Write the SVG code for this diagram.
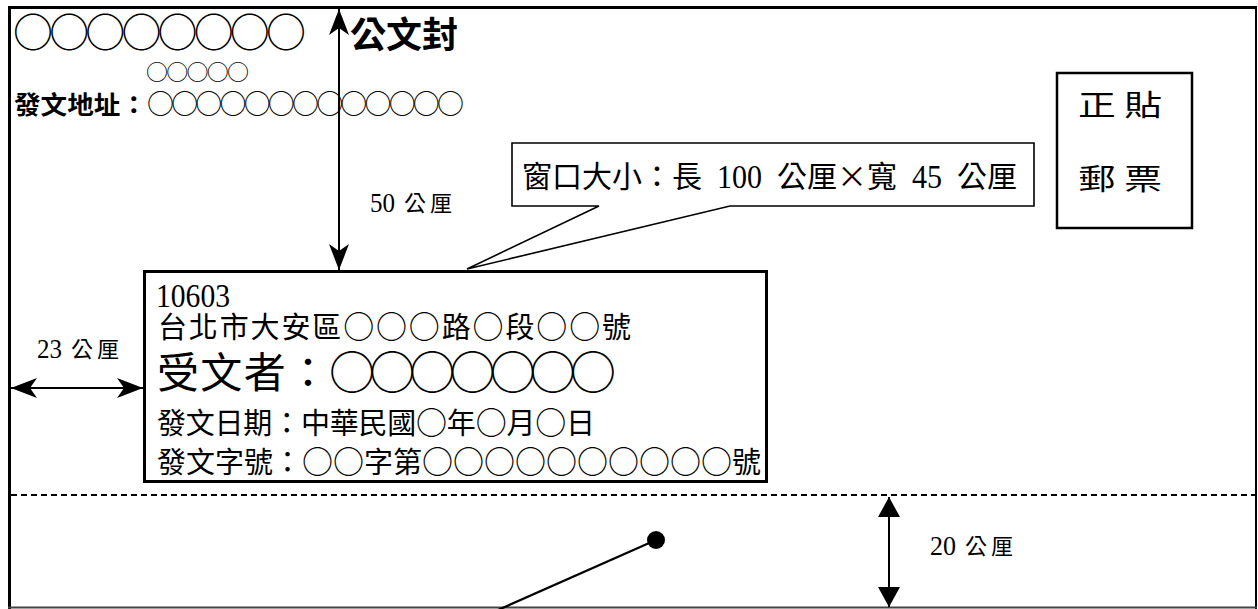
<svg xmlns="http://www.w3.org/2000/svg" width="1258" height="609" viewBox="0 0 1258 609">
<style>
.t { font-family: "Noto Sans CJK TC", "Noto Sans CJK SC", sans-serif; fill: #000; }
.d { font-family: "Liberation Serif", serif; fill: #000; }
.b { font-weight: 700; }
.box { fill: #fff; stroke: #000; }
.dim { stroke: #000; stroke-width: 2; fill: none; }
</style>
<defs>
<marker id="barb" markerUnits="userSpaceOnUse" viewBox="0 0 26 20" refX="26" refY="10" markerWidth="26" markerHeight="20" orient="auto-start-reverse">
<path d="M26,10 L0,0 L7,10 L0,20 Z" fill="#000"/>
</marker>
<marker id="tri" markerUnits="userSpaceOnUse" viewBox="0 0 20 22" refX="20" refY="11" markerWidth="20" markerHeight="22" orient="auto-start-reverse">
<path d="M20,11 L0,0 L0,22 Z" fill="#000"/>
</marker>
</defs>
<rect width="1258" height="609" fill="#fff"/>
<g id="frame" fill="none" stroke="#000">
<line x1="8" y1="7.5" x2="1257" y2="7.5" stroke-width="3"/>
<line x1="9.5" y1="6" x2="9.5" y2="609" stroke-width="3"/>
<line x1="1256" y1="6" x2="1256" y2="609" stroke-width="2"/>
<line x1="8" y1="607.5" x2="1257" y2="607.5" stroke-width="2" stroke="#444"/>
<line x1="11" y1="495" x2="1255" y2="495" stroke-width="2" stroke-dasharray="6 4"/>
</g>
<g id="sender">
<text class="t" x="13" y="47" font-size="40" textLength="293">○○○○○○○○</text>
<text class="t" x="146" y="80" font-size="22" textLength="103">○○○○○</text>
<text class="t b" x="14" y="114" font-size="25" textLength="133" lengthAdjust="spacingAndGlyphs">發文地址：</text>
<text class="t" x="147" y="114" font-size="27" textLength="317">○○○○○○○○○○○○○</text>
</g>
<g id="title">
<text class="t b" x="350" y="48" font-size="36" textLength="108" lengthAdjust="spacingAndGlyphs">公文封</text>
</g>
<g id="stamp">
<rect class="box" x="1057" y="73" width="135" height="155" stroke-width="2.5"/>
<text class="t" x="1078" y="116" font-size="29" textLength="84" lengthAdjust="spacingAndGlyphs">正 貼</text>
<text class="t" x="1078" y="190" font-size="29" textLength="84" lengthAdjust="spacingAndGlyphs">郵 票</text>
</g>
<g id="callout">
<path class="box" d="M512,143 H1034 V206 H730 L467,269 L599,206 H512 Z" stroke-width="1.6"/>
<text class="t" x="522" y="187" font-size="30" textLength="180">窗口大小：長</text>
<text class="d" x="717" y="188" font-size="34" textLength="45" lengthAdjust="spacingAndGlyphs">100</text>
<text class="t" x="777" y="187" font-size="30" textLength="120">公厘×寬</text>
<text class="d" x="912" y="188" font-size="34" textLength="30" lengthAdjust="spacingAndGlyphs">45</text>
<text class="t" x="957" y="187" font-size="30" textLength="60">公厘</text>
</g>
<g id="window">
<rect class="box" x="144.5" y="271.5" width="622" height="210" stroke-width="3"/>
<text class="d" x="156" y="307" font-size="33" textLength="74" lengthAdjust="spacingAndGlyphs">10603</text>
<text class="t" x="158" y="338" font-size="29" textLength="473">台北市大安區<tspan font-size="31">○○○</tspan>路<tspan font-size="31">○</tspan>段<tspan font-size="31">○○</tspan>號</text>
<text class="t" x="157" y="388" font-size="42" textLength="172">受文者：</text>
<text class="t" x="329" y="389" font-size="46" textLength="287">○○○○○○○</text>
<text class="t" x="157" y="434" font-size="29" textLength="438">發文日期：中華民國<tspan font-size="31">○</tspan>年<tspan font-size="31">○</tspan>月<tspan font-size="31">○</tspan>日</text>
<text class="t" x="157" y="473" font-size="29" textLength="604">發文字號：<tspan font-size="31">○○</tspan>字第<tspan font-size="31">○○○○○○○○○○</tspan>號</text>
</g>
<g id="connectors">
<line class="dim" x1="339" y1="9" x2="339" y2="270" marker-start="url(#barb)" marker-end="url(#barb)"/>
<line class="dim" x1="11" y1="388" x2="143" y2="388" marker-start="url(#barb)" marker-end="url(#barb)"/>
<line class="dim" x1="889" y1="497" x2="889" y2="607" marker-start="url(#tri)" marker-end="url(#tri)"/>
</g>
<g id="labels">
<text class="d" x="370" y="212" font-size="28" textLength="25" lengthAdjust="spacingAndGlyphs">50</text>
<text class="t" x="404" y="211" font-size="22" textLength="48">公厘</text>
<text class="d" x="37" y="358" font-size="28" textLength="25" lengthAdjust="spacingAndGlyphs">23</text>
<text class="t" x="71" y="357" font-size="22" textLength="48">公厘</text>
<text class="d" x="930" y="555" font-size="28" textLength="26" lengthAdjust="spacingAndGlyphs">20</text>
<text class="t" x="965" y="554" font-size="22" textLength="48">公厘</text>
</g>
<g id="pin">
<line x1="656" y1="540" x2="498" y2="610" stroke="#000" stroke-width="2.2"/>
<circle cx="656" cy="540" r="9" fill="#000"/>
</g>
</svg>
